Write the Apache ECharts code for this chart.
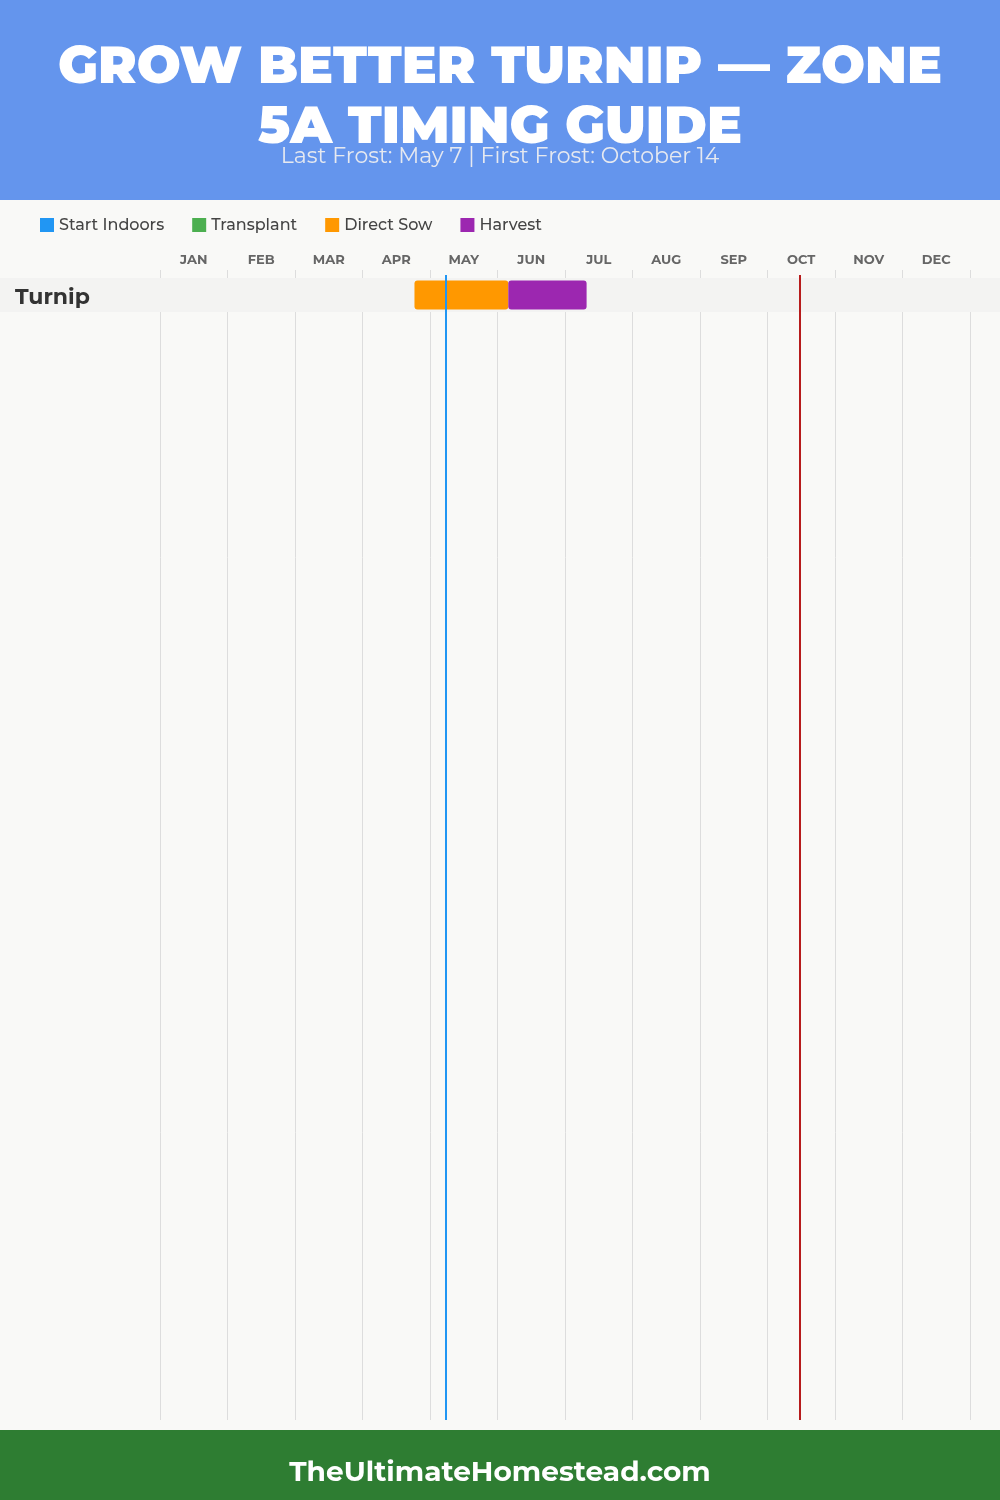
<!DOCTYPE html>
<html><head><meta charset="utf-8">
<script src="https://cdn.jsdelivr.net/npm/echarts@6/dist/echarts.min.js"></script>
<style>html,body{margin:0;padding:0;background:#f9f9f7}#c{width:1000px;height:1500px}</style>
</head><body><div id="c"></div>
<script>
const titleLines = ['GROW BETTER TURNIP — ZONE', '5A TIMING GUIDE'];
const subtitle = 'Last Frost: May 7 | First Frost: October 14';
const footer = 'TheUltimateHomestead.com';
const months = ['JAN','FEB','MAR','APR','MAY','JUN','JUL','AUG','SEP','OCT','NOV','DEC'];
const crops = ['Turnip'];
// ranges in month units (0 = Jan 1, 12 = Dec 31)
const startIndoors = [];
const transplant = [];
const directSow = [[0, 3.77, 5.16]];
const harvest = [[0, 5.16, 6.32]];
const lastFrost = 4.23;   // May 7
const firstFrost = 9.48;  // Oct 14

const colors = {'Start Indoors':'#2196F3','Transplant':'#4CAF50','Direct Sow':'#FF9800','Harvest':'#9C27B0'};
const font = 'Montserrat, Inter, "Noto Sans", sans-serif';

function rangeSeries(name, data){
  return {
    name, type:'custom', xAxisIndex:2, yAxisIndex:2, z:5,
    itemStyle:{color:colors[name]},
    encode:{x:[1,2], y:0},
    renderItem(params, api){
      const y = api.value(0);
      const s = api.coord([api.value(1), y]);
      const e = api.coord([api.value(2), y]);
      const h = api.size([0,1])[1] * 0.86;
      return {type:'rect', shape:{x:s[0], y:s[1]-h/2, width:e[0]-s[0], height:h, r:3},
        style:{fill:colors[name]}};
    },
    data
  };
}

const chart = echarts.init(document.getElementById('c'), null, {renderer:'canvas'});
chart.setOption({
  backgroundColor:'#f9f9f7',
  animation:false,
  textStyle:{fontFamily:font},
  graphic:[
    {type:'rect', z:0, shape:{x:0,y:0,width:1000,height:200}, style:{fill:'#6495ED'}},
    {type:'text', z:1, left:'center', top:42, style:{text:titleLines[0], fill:'#fff', font:'900 52px '+font}},
    {type:'text', z:1, left:'center', top:102, style:{text:titleLines[1], fill:'#fff', font:'900 52px '+font}},
    {type:'text', z:1, left:'center', top:146, style:{text:subtitle, fill:'#e6e9f0', font:'400 22px '+font}},
    {type:'rect', z:1, shape:{x:0,y:278,width:1000,height:34}, style:{fill:'#f3f3f2'}},
    {type:'rect', z:0, shape:{x:0,y:1430,width:1000,height:70}, style:{fill:'#2E7D32'}},
    {type:'text', z:1, left:'center', top:1459, style:{text:footer, fill:'#fff', font:'700 28px '+font}}
  ],
  legend:{
    left:35, top:212, itemWidth:14, itemHeight:14, itemGap:28, icon:'rect',
    textStyle:{fontSize:16, fontWeight:500, color:'#444', fontFamily:font},
    data:['Start Indoors','Transplant','Direct Sow','Harvest']
  },
  grid:[
    {left:160, right:30, top:270, bottom:80},
    {left:160, right:30, top:275, bottom:80},
    {left:160, right:30, top:278, height:34}
  ],
  xAxis:[
    {type:'category', gridIndex:0, position:'top', data:months, boundaryGap:true,
      axisLine:{show:false}, axisTick:{show:false},
      axisLabel:{margin:3, fontSize:13, fontWeight:'bold', color:'#666', fontFamily:font},
      splitLine:{show:true, interval:0, lineStyle:{color:'#dddddd', width:1}}},
    {type:'value', gridIndex:1, min:0, max:12, show:false},
    {type:'value', gridIndex:2, min:0, max:12, show:false}
  ],
  yAxis:[
    {type:'value', gridIndex:0, show:false},
    {type:'value', gridIndex:1, min:0, max:1, show:false},
    {type:'category', gridIndex:2, data:crops, inverse:true, z:4,
      axisLine:{show:false}, axisTick:{show:false}, splitLine:{show:false},
      axisLabel:{align:'left', margin:145, formatter:'{a|{value}}',
        rich:{a:{fontSize:22, fontWeight:'bold', color:'#333', fontFamily:font, padding:[6,0,0,0]}}}}
  ],
  series:[
    rangeSeries('Start Indoors', startIndoors),
    rangeSeries('Transplant', transplant),
    rangeSeries('Direct Sow', directSow),
    rangeSeries('Harvest', harvest),
    {type:'line', xAxisIndex:1, yAxisIndex:1, data:[], z:10,
      markLine:{symbol:'none', silent:true, label:{show:false}, z:10,
        data:[
          {xAxis:lastFrost, lineStyle:{color:'#2196F3', width:2, type:'solid'}},
          {xAxis:firstFrost, lineStyle:{color:'#B71C1C', width:2, type:'solid'}}
        ]}}
  ]
});
</script></body></html>
